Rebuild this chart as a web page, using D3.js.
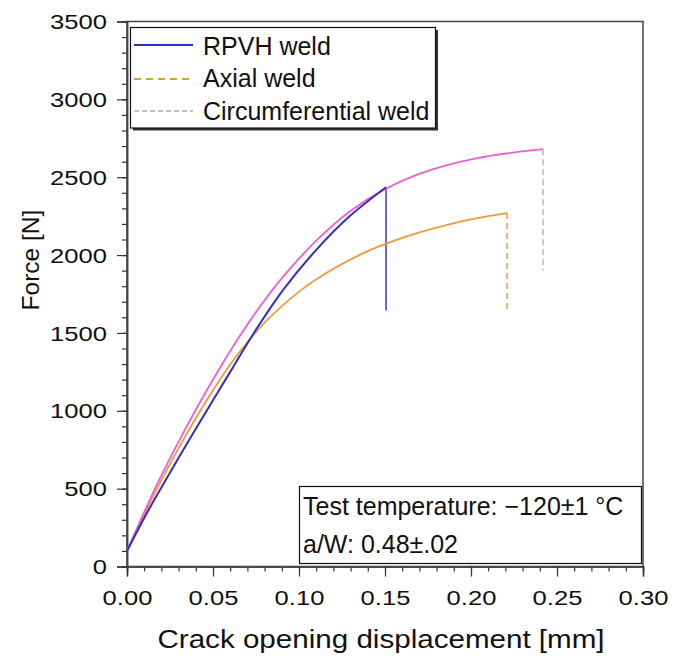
<!DOCTYPE html>
<html>
<head>
<meta charset="utf-8">
<script src="https://cdn.jsdelivr.net/npm/d3@7"></script>
<style>
  html, body { margin: 0; padding: 0; background: #ffffff; }
  svg text { font-family: "Liberation Sans", Arial, Helvetica, sans-serif; fill: #111; }
</style>
</head>
<body>
<svg id="chart" width="683" height="661"></svg>
<script>
// ---------- data ----------
const seriesNames = ["RPVH weld", "Axial weld", "Circumferential weld"];

const rpvhX = [0, 0.01, 0.02, 0.03, 0.04, 0.05, 0.06, 0.0735, 0.0909, 0.1103, 0.1297, 0.1506];
const rpvhF = [100, 312, 508, 698, 885, 1068, 1250, 1495, 1778, 2037, 2252, 2436];

const axialX = [0, 0.01, 0.02, 0.035, 0.05, 0.0618, 0.075, 0.0812, 0.1006, 0.12, 0.1393, 0.1587, 0.170, 0.184, 0.2035, 0.221];
const axialF = [100, 332, 555, 858, 1132, 1325, 1505, 1580, 1770, 1912, 2022, 2105, 2146, 2188, 2237, 2270];

const circX = [0, 0.01, 0.02, 0.033, 0.045, 0.056, 0.067, 0.08, 0.0909, 0.1103, 0.1297, 0.149, 0.17, 0.2035, 0.2419];
const circF = [100, 350, 585, 865, 1105, 1312, 1505, 1710, 1863, 2096, 2282, 2417, 2522, 2622, 2680];

// final load drop of each specimen
const dropX = [0.1506, 0.221, 0.2419];
const dropTop = [2436, 2270, 2680];
const dropBottom = [1644, 1631, 1900];

const xTicks = [0, 0.05, 0.10, 0.15, 0.20, 0.25, 0.30];
const yTicks = [0, 500, 1000, 1500, 2000, 2500, 3000, 3500];

const xLabel = "Crack opening displacement [mm]";
const yLabel = "Force [N]";
const noteLines = ["Test temperature: \u2212120\u00b11 \u00b0C", "a/W: 0.48\u00b1.02"];

// ---------- styles ----------
const colors = ["#2f2fc8", "#f29a38", "#ef5fd0"];
const dropColors = ["#3a3ad0", "#e8a040", "#c9b0c4"];
const dropDash = [null, "6,4", "6,4"];
const legendColors = ["#2f2fc8", "#c8aa30", "#c8c0c8"];
const legendDash = [null, "7,5", "5,3"];

// ---------- layout ----------
const svg = d3.select("#chart");
const L = 127, R = 643, T = 21.5, B = 566.5;

const x = d3.scaleLinear().domain([0, 0.3]).range([L, R]);
const y = d3.scaleLinear().domain([0, 3500]).range([B, T]);

// frame
svg.append("rect")
  .attr("x", L).attr("y", T).attr("width", R - L).attr("height", B - T)
  .attr("fill", "none").attr("stroke", "#444").attr("stroke-width", 1.5);

// axes
const tickSx = 1.22;
const xMinor = d3.range(0, 0.3001, 0.01);
const yMinor = d3.range(0, 3501, 100);

const gxMinor = svg.append("g").attr("transform", `translate(0,${B})`)
  .call(d3.axisBottom(x).tickValues(xMinor).tickSize(5).tickFormat(""));
const gx = svg.append("g").attr("transform", `translate(0,${B})`)
  .call(d3.axisBottom(x).tickValues(xTicks).tickSize(10).tickFormat(d3.format(".2f")));
const gyMinor = svg.append("g").attr("transform", `translate(${L},0)`)
  .call(d3.axisLeft(y).tickValues(yMinor).tickSize(5).tickFormat(""));
const gy = svg.append("g").attr("transform", `translate(${L},0)`)
  .call(d3.axisLeft(y).tickValues(yTicks).tickSize(10).tickFormat(d3.format("d")));

[gxMinor, gx, gyMinor, gy].forEach(g => {
  g.select(".domain").attr("stroke", "#444").attr("stroke-width", 1.5);
  g.selectAll(".tick line").attr("stroke", "#333").attr("stroke-width", 1.2);
});

gx.selectAll(".tick text")
  .attr("font-size", 21).attr("fill", "#111")
  .attr("y", 39).attr("dy", "0")
  .attr("transform", `scale(${tickSx},1)`);
gy.selectAll(".tick text")
  .attr("font-size", 21).attr("fill", "#111")
  .attr("x", -20 / tickSx).attr("dy", "0.34em")
  .attr("transform", `scale(${tickSx},1)`);

// axis titles
svg.append("text")
  .attr("transform", `translate(${(L + R) / 2 - 4},648) scale(1.16,1)`)
  .attr("text-anchor", "middle").attr("font-size", 25.5)
  .text(xLabel);
svg.append("text")
  .attr("transform", `translate(39,${260}) rotate(-90)`)
  .attr("text-anchor", "middle").attr("font-size", 24.5)
  .text(yLabel);

// curves
const line = d3.line().x(d => x(d[0])).y(d => y(d[1])).curve(d3.curveCatmullRom.alpha(0.5));
const seriesData = [
  d3.zip(rpvhX, rpvhF),
  d3.zip(axialX, axialF),
  d3.zip(circX, circF)
];

// drops (drawn first so curves sit on top)
seriesNames.forEach((name, i) => {
  svg.append("line")
    .attr("x1", x(dropX[i])).attr("x2", x(dropX[i]))
    .attr("y1", y(dropTop[i])).attr("y2", y(dropBottom[i]))
    .attr("stroke", dropColors[i]).attr("stroke-width", 1.5)
    .attr("stroke-dasharray", dropDash[i]);
});

// order: axial, circ, rpvh on top
[1, 2, 0].forEach(i => {
  svg.append("path")
    .datum(seriesData[i])
    .attr("d", line)
    .attr("fill", "none")
    .attr("stroke", colors[i])
    .attr("stroke-width", i === 0 ? 2 : 1.8);
});

// legend
const lg = { x: 130.5, y: 27.5, w: 305, h: 100.5 };
svg.append("rect")
  .attr("x", lg.x + 2.5).attr("y", lg.y + 2.5).attr("width", lg.w).attr("height", lg.h)
  .attr("fill", "#333");
svg.append("rect")
  .attr("x", lg.x).attr("y", lg.y).attr("width", lg.w).attr("height", lg.h)
  .attr("fill", "#fff").attr("stroke", "#111").attr("stroke-width", 1.2);
const legendY = [45, 79, 111];
const legendTextY = [55, 87, 120];
seriesNames.forEach((name, i) => {
  svg.append("line")
    .attr("x1", 134).attr("x2", 193)
    .attr("y1", legendY[i]).attr("y2", legendY[i])
    .attr("stroke", legendColors[i]).attr("stroke-width", 1.8)
    .attr("stroke-dasharray", legendDash[i]);
  svg.append("text")
    .attr("x", 203).attr("y", legendTextY[i])
    .attr("font-size", 25)
    .text(name);
});

// annotation box
svg.append("rect")
  .attr("x", 299.5).attr("y", 486.5).attr("width", 342).attr("height", 77)
  .attr("fill", "#fff").attr("stroke", "#111").attr("stroke-width", 1.2);
const noteY = [515, 553];
noteLines.forEach((t, i) => {
  svg.append("text")
    .attr("x", 303).attr("y", noteY[i])
    .attr("font-size", 25)
    .text(t);
});
</script>
</body>
</html>
